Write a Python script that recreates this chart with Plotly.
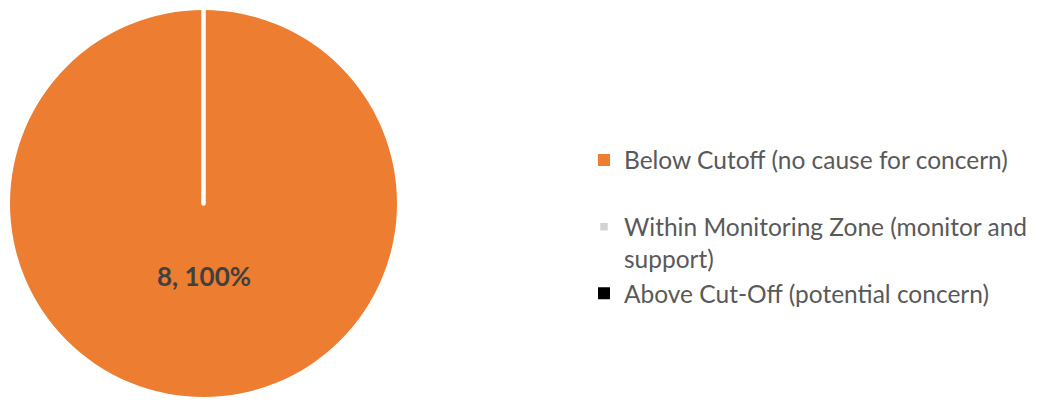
import plotly.graph_objects as go

labels = ["Below Cutoff (no cause for concern)<br> ",
          "Within Monitoring Zone (monitor and<br>support)",
          "Above Cut-Off (potential concern)"]
values = [8, 0, 0]
colors = ["#ED7D31", "#D3D3D3", "#000000"]
line_widths = [0, 4.5, 0]

W, H = 1038, 403
OFF = 8  # page body margin offset in the screenshot

total = sum(values)
label_text = f"<b>{values[0]}, {round(100 * values[0] / total)}%</b>"

fig = go.Figure(go.Pie(
    labels=labels,
    values=values,
    sort=False,
    direction="clockwise",
    rotation=0,
    marker=dict(colors=colors, line=dict(color="white", width=line_widths)),
    textinfo="none",
    showlegend=True,
    domain=dict(x=[(10 - OFF) / W, (397 - OFF) / W],
                y=[1 - (397 - OFF) / H, 1 - (10 - OFF) / H]),
    hoverinfo="label+value+percent",
))

fig.add_annotation(
    x=(203.5 - OFF) / W, y=1 - (275.5 - OFF) / H,
    xref="paper", yref="paper",
    xanchor="center", yanchor="middle",
    text=label_text, showarrow=False,
    font=dict(family="Lato", size=26, color="#404040"),
)

fig.update_layout(
    width=W, height=H,
    margin=dict(l=0, r=0, t=0, b=0),
    paper_bgcolor="white",
    plot_bgcolor="white",
    legend=dict(
        x=(624 - OFF - 40) / W, xanchor="left",
        y=1 - (227 - OFF) / H, yanchor="middle",
        valign="top",
        font=dict(family="Lato", size=24.5, color="#595959"),
        bgcolor="rgba(0,0,0,0)",
        tracegroupgap=0,
    ),
)

fig.write_html("out.html")
